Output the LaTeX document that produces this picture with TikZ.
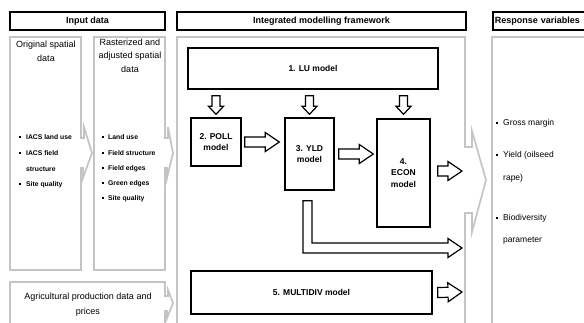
\documentclass[tikz,border=0pt]{standalone}
\usepackage{fontspec}
\setmainfont{Liberation Sans}
\usetikzlibrary{calc}
\definecolor{framegray}{RGB}{196,196,196}
\newcommand\sqbul{\rule[0.2em]{2.2pt}{2.2pt}}

\tikzset{
  hdr/.style={draw=black, line width=1.8pt, inner sep=0pt,
    font=\bfseries\fontsize{9}{11}\selectfont},
  panel/.style={draw=framegray, line width=1.7pt, line join=miter},
  model/.style={draw=black, line width=1.4pt, fill=white, inner sep=0pt, align=center,
    font=\bfseries\fontsize{8.5}{11.5}\selectfont},
  ttl/.style={inner sep=0pt, align=center, font=\fontsize{9}{13.5}\selectfont},
  item/.style={anchor=west, inner sep=0pt, text height=0.72em, text depth=0.2em,
    font=\bfseries\fontsize{6.8}{8}\selectfont},
  resp/.style={anchor=west, inner sep=0pt, text height=0.72em, text depth=0.2em,
    font=\fontsize{8.5}{10}\selectfont},
  % open block arrow between two points: shaft half width, head half width, head length
  blockarrow/.style n args={3}{draw=black, line width=1.2pt, fill=white, line join=miter,
    to path={
      ($(\tikztotarget)!#3!(\tikztostart)$) coordinate (ba-h)
      ($(\tikztostart)!#1!90:(\tikztotarget)$)
      -- ($(ba-h)!#1!90:(\tikztotarget)$)
      -- ($(ba-h)!#2!90:(\tikztotarget)$)
      -- (\tikztotarget)
      -- ($(ba-h)!#2!-90:(\tikztotarget)$)
      -- ($(ba-h)!#1!-90:(\tikztotarget)$)
      -- ($(\tikztostart)!#1!-90:(\tikztotarget)$)
      -- cycle}},
  hbarrow/.style={blockarrow={5pt}{9.5pt}{14pt}},
  vbarrow/.style={blockarrow={4pt}{7.5pt}{8pt}},
  bentarrow/.style={draw=black, line width=1.2pt, fill=white, line join=miter},
}

\begin{document}
\begin{tikzpicture}[x=1pt,y=-1pt]
\useasboundingbox (0,0) rectangle (584,322);
\clip (0,0) rectangle (584,322);

% column headers
\node[hdr, minimum width=155pt, minimum height=18pt] (hin) at (87.5,21) {Input data};
\node[hdr, minimum width=289pt, minimum height=18pt] (hfw) at (321.5,21) {Integrated modelling framework};
\node[hdr, minimum width=110pt, minimum height=18pt, anchor=west, inner xsep=2pt,
      text width=106pt, align=left] (hrv) at (492,21) {Response variables};

% grey panels with their chevrons
\draw[panel] (81,138) -- (81,37) -- (10,37) -- (10,270) -- (81,270) -- (81,168)
  -- (83,168) -- (83,178) -- (92,153) -- (84,127) -- (84,138) -- cycle;
\draw[panel] (165,138) -- (165,37) -- (94,37) -- (94,270) -- (165,270) -- (165,168)
  -- (167,168) -- (167,178) -- (173,153) -- (168,127) -- (168,138) -- cycle;
\draw[panel] (165,296) -- (165,282) -- (10,282) -- (10,335) -- (165,335) -- (165,311)
  -- (167,311) -- (167,318) -- (173,303) -- (168,290) -- (168,296) -- cycle;
\draw[panel] (465,147) -- (465,37) -- (177,37) -- (177,335) -- (465,335) -- (465,213)
  -- (472,213) -- (472,232) -- (486,180) -- (472,131) -- (472,147) -- cycle;
\draw[panel] (600,37) -- (492,37) -- (492,335);

% input data texts
\node[ttl] (orig) at (46,51.5) {Original spatial\\data};
\node[ttl] (rast) at (130,55.5) {Rasterized and\\adjusted spatial\\data};
\node[ttl, font=\fontsize{9}{15}\selectfont] (agri) at (88,304.5) {Agricultural production data and\\prices};

\node[item] (o1) at (26,137) {\llap{\sqbul\hspace{5pt}}IACS land use};
\node[item] (o2) at (26,153) {\llap{\sqbul\hspace{5pt}}IACS field};
\node[item] (o3) at (26,169) {structure};
\node[item] (o4) at (26,184) {\llap{\sqbul\hspace{5pt}}Site quality};

\node[item] (r1) at (108,137) {\llap{\sqbul\hspace{4pt}}Land use};
\node[item] (r2) at (108,153) {\llap{\sqbul\hspace{4pt}}Field structure};
\node[item] (r3) at (108,168) {\llap{\sqbul\hspace{4pt}}Field edges};
\node[item] (r4) at (108,183) {\llap{\sqbul\hspace{4pt}}Green edges};
\node[item] (r5) at (108,198) {\llap{\sqbul\hspace{4pt}}Site quality};

% response variables
\node[resp] (v1) at (503,123) {\llap{\sqbul\hspace{5pt}}Gross margin};
\node[resp] (v2) at (503,155) {\llap{\sqbul\hspace{5pt}}Yield (oilseed};
\node[resp] (v3) at (503,178) {rape)};
\node[resp] (v4) at (503,218) {\llap{\sqbul\hspace{5pt}}Biodiversity};
\node[resp] (v5) at (503,240) {parameter};

% models
\node[model, minimum width=250pt, minimum height=41pt] (lu) at (313,68.5) {1. LU model};
\node[model, minimum width=50pt, minimum height=48pt] (poll) at (216,142) {2. POLL\\model};
\node[model, minimum width=49pt, minimum height=72pt] (yld) at (309.5,154) {3. YLD\\model};
\node[model, minimum width=53pt, minimum height=108pt] (econ) at (403.5,173) {4.\\ECON\\model};
\node[model, minimum width=241pt, minimum height=43pt] (multi) at (311.5,292.5) {5. MULTIDIV model};

% free ends of the outgoing arrows
\coordinate (econout) at (462,171);
\coordinate (yldout) at (462,248);
\coordinate (multiout) at (462,292);

% block arrows
\draw[vbarrow] ($(lu.south -| poll.north)+(0,6)$) to ($(poll.north)+(0,-3)$);
\draw[vbarrow] ($(lu.south -| yld.north)+(0,6)$) to ($(yld.north)+(0,-3)$);
\draw[vbarrow] ($(lu.south -| econ.north)+(0,6)$) to ($(econ.north)+(0,-4)$);
\draw[hbarrow] ($(poll.east)+(3,0)$) to ($(poll.east -| yld.west)+(-5,0)$);
\draw[hbarrow] ($(yld.east)+(4,0)$) to ($(yld.east -| econ.west)+(-3,0)$);
\draw[hbarrow] ($(econ.east |- econout)+(7,0)$) to (econout);
\draw[hbarrow] ($(multi.east)+(5,0)$) to (multiout);
\draw[bentarrow] let \p1=(yld.south), \p2=(yldout) in
  (\x1-6.5pt,\y1-10pt) -- (\x1+2.5pt,\y1-10pt) -- (\x1+2.5pt,\y2+5pt)
  -- (\x2-14pt,\y2+5pt) -- (\x2-14pt,\y2+9.5pt) -- (\p2)
  -- (\x2-14pt,\y2-9.5pt) -- (\x2-14pt,\y2-5pt) -- (\x1-6.5pt,\y2-5pt) -- cycle;
\end{tikzpicture}
\end{document}
